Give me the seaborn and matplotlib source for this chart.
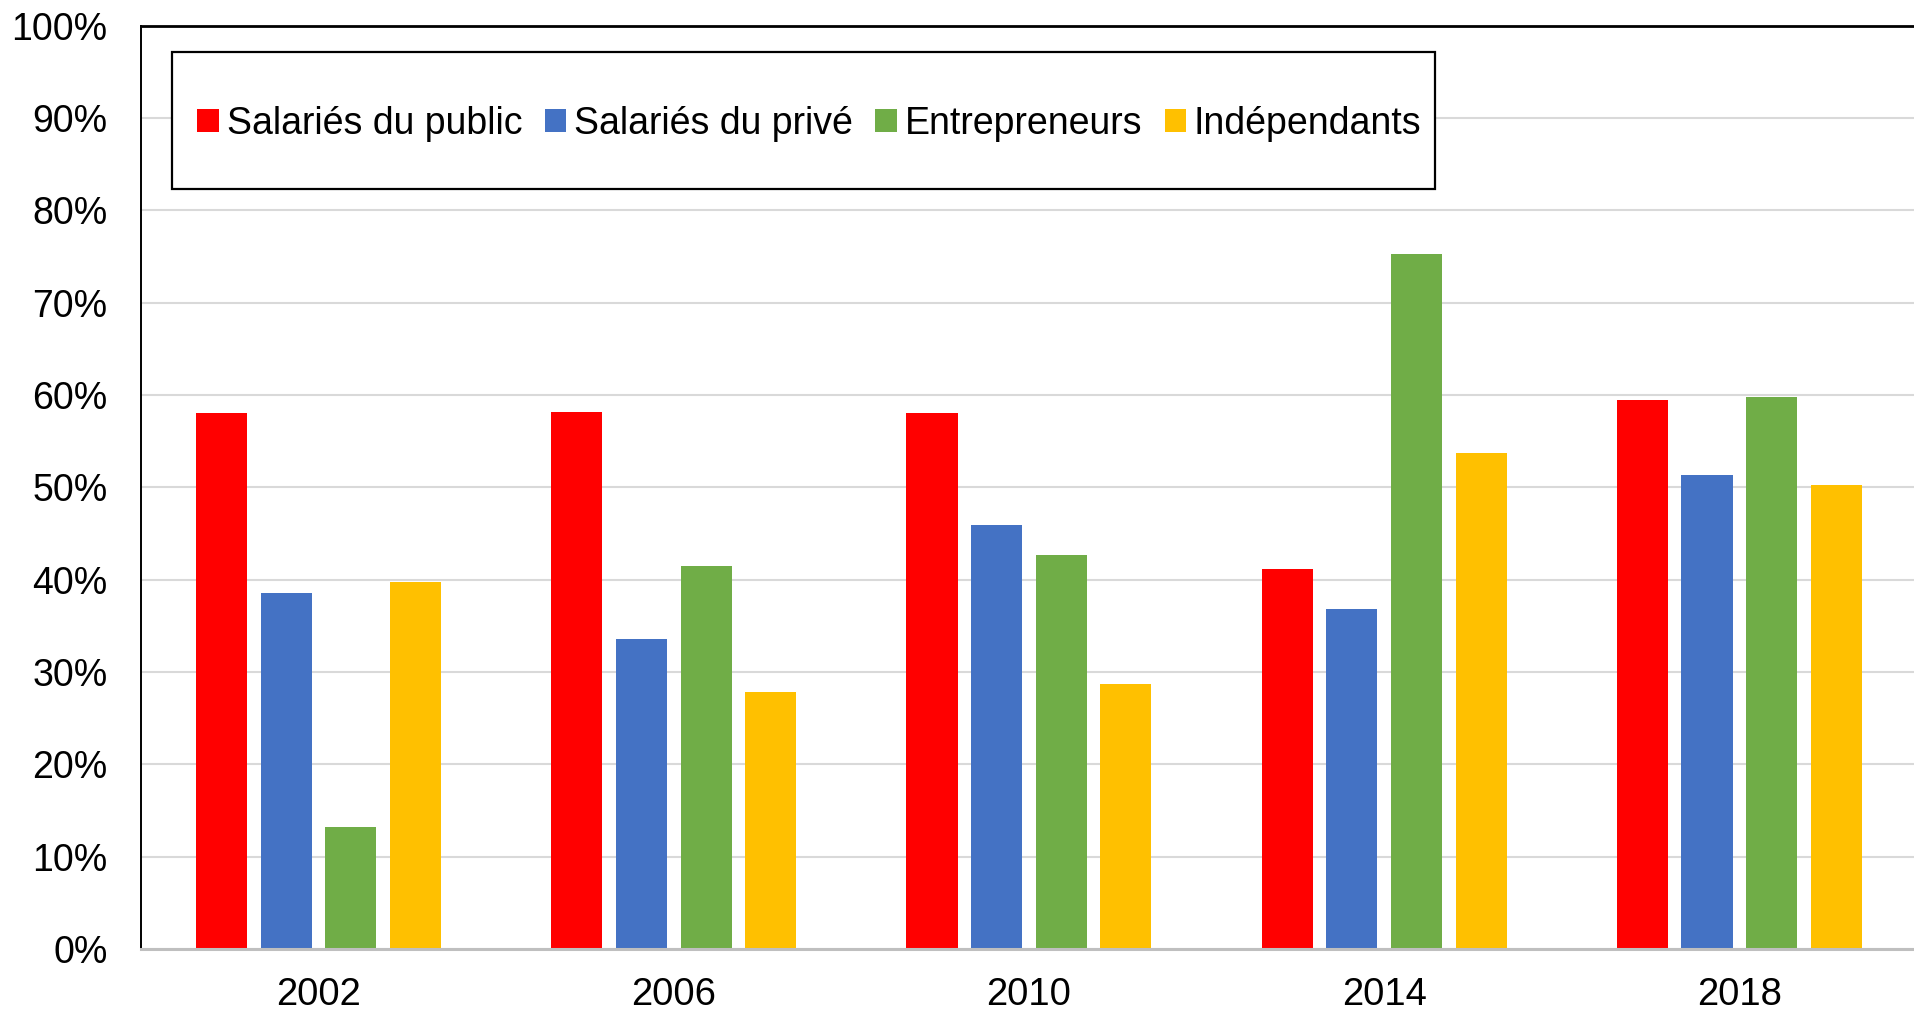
import matplotlib
matplotlib.use("Agg")
import matplotlib.pyplot as plt
from matplotlib.patches import Rectangle
import seaborn as sns
import pandas as pd
from matplotlib.ticker import PercentFormatter, MultipleLocator

years = ["2002", "2006", "2010", "2014", "2018"]
series = ["Salariés du public", "Salariés du privé", "Entrepreneurs", "Indépendants"]
public = [58.0, 58.2, 58.1, 41.1, 59.5]
prive = [38.6, 33.6, 45.9, 36.8, 51.3]
entrepreneurs = [13.2, 41.5, 42.7, 75.3, 59.8]
independants = [39.7, 27.8, 28.7, 53.7, 50.2]
colors = ["#FF0000", "#4472C4", "#70AD47", "#FFC000"]

rows = []
for name, vals in zip(series, [public, prive, entrepreneurs, independants]):
    for y, v in zip(years, vals):
        rows.append({"Année": y, "Groupe": name, "Valeur": v})
df = pd.DataFrame(rows)

sns.set_theme(style="white")
plt.rcParams["font.family"] = ["Liberation Sans", "DejaVu Sans"]

W, H = 1915, 1011
fig = plt.figure(figsize=(W / 100, H / 100), dpi=100)
ax = fig.add_axes([141 / W, 1 - 949 / H, 1.001 - 141 / W, (949 - 25.6) / H])

sns.barplot(data=df, x="Année", y="Valeur", hue="Groupe", order=years,
            hue_order=series, palette=colors, width=0.728, gap=0.21,
            linewidth=0, saturation=1, ax=ax, errorbar=None, legend=False)

ax.set_ylim(0, 100)
ax.set_xlim(-0.5, 4.5)
ax.yaxis.set_major_locator(MultipleLocator(10))
ax.yaxis.set_major_formatter(PercentFormatter(decimals=0))
ax.grid(axis="y", color="#D9D9D9", linewidth=1.5)
ax.set_axisbelow(True)
ax.set_xlabel("")
ax.set_ylabel("")
ax.tick_params(axis="y", labelsize=27, length=0, pad=24, colors="black")
ax.tick_params(axis="x", labelsize=27.5, length=0, pad=20, colors="black")

for s in ["left", "top"]:
    ax.spines[s].set_color("black")
ax.spines["left"].set_linewidth(1.4)
ax.spines["top"].set_linewidth(2.0)
ax.spines["right"].set_visible(False)
ax.spines["bottom"].set_color("#BFBFBF")
ax.spines["bottom"].set_linewidth(2.2)

# legend frame (box drawn separately so its padding can match the reference)
frame = Rectangle((172 / W, 1 - 189 / H), (1435 - 172) / W, 137 / H,
                  transform=fig.transFigure, facecolor="white", edgecolor="black",
                  linewidth=1.6, zorder=4.5, clip_on=False)
ax.add_patch(frame)

handles = [Rectangle((0, 0), 1, 1, facecolor=c, edgecolor="none") for c in colors]
leg = ax.legend(handles, series, loc="center",
                bbox_to_anchor=(809.5 / W, 1 - 123.5 / H),
                bbox_transform=fig.transFigure,
                ncol=4, fontsize=27, frameon=False, borderpad=0,
                handlelength=0.58, handleheight=0.58, handletextpad=0.2,
                columnspacing=0.6, borderaxespad=0, labelcolor="black")
leg.set_zorder(5)

fig.savefig("out.png", dpi=100)
